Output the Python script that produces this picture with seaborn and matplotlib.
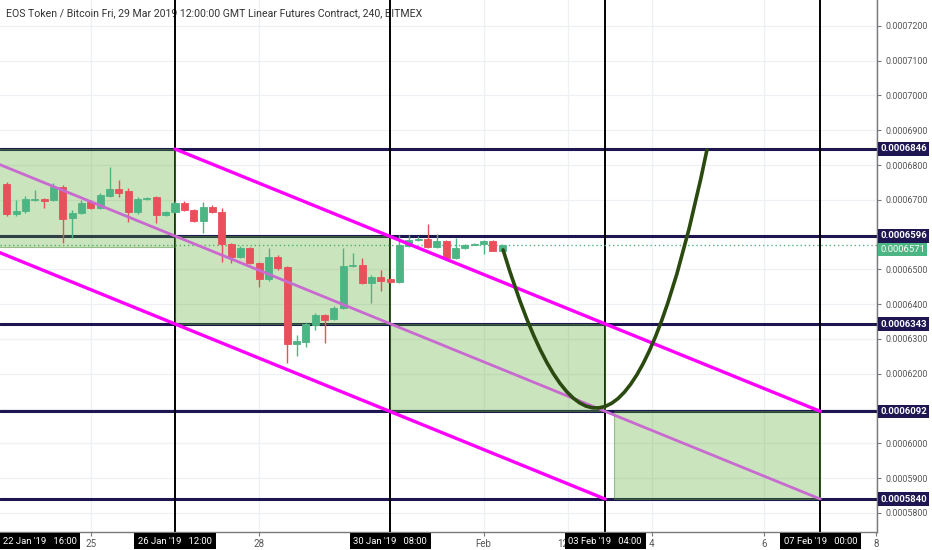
"""
EOS/BTC 4h chart with channel, levels and projection curve (TradingView style)
"""
import matplotlib
matplotlib.use('Agg')
import matplotlib.pyplot as plt
import matplotlib.dates as mdates
from matplotlib.path import Path
from matplotlib.patches import PathPatch, Rectangle
import numpy as np
import pandas as pd
import seaborn as sns

UNIT = 1e-7  # all prices below are in units of 1e-7 BTC

# ---- 4h candles, first one 23 Jan 12:00 ----
candle_start = '2019-01-23 12:00'
opens = [6745, 6659, 6668, 6699, 6702, 6699, 6737, 6648, 6662, 6694,
         6676, 6711, 6731, 6725, 6665, 6702, 6708, 6656, 6665, 6691,
         6671, 6639, 6679, 6665, 6573, 6536, 6561, 6518, 6472, 6536,
         6507, 6286, 6291, 6340, 6369, 6357, 6389, 6510, 6513, 6461,
         6478, 6472, 6464, 6567, 6584, 6587, 6564, 6582, 6533, 6561,
         6570, 6573, 6582, 6553]
highs = [6751, 6699, 6711, 6728, 6705, 6748, 6743, 6671, 6699, 6699,
         6720, 6794, 6757, 6734, 6708, 6708, 6711, 6668, 6697, 6697,
         6673, 6694, 6685, 6676, 6576, 6567, 6564, 6521, 6561, 6541,
         6510, 6311, 6349, 6375, 6372, 6395, 6561, 6547, 6533, 6484,
         6498, 6475, 6599, 6599, 6596, 6630, 6602, 6584, 6590, 6573,
         6576, 6584, 6584, 6573]
lows = [6653, 6653, 6662, 6697, 6676, 6697, 6576, 6590, 6659, 6673,
        6673, 6708, 6708, 6636, 6659, 6699, 6633, 6653, 6662, 6668,
        6636, 6605, 6662, 6521, 6518, 6533, 6515, 6449, 6466, 6498,
        6231, 6251, 6277, 6326, 6288, 6354, 6386, 6507, 6458, 6403,
        6438, 6461, 6461, 6564, 6582, 6561, 6561, 6530, 6530, 6558,
        6570, 6544, 6553, 6550]
closes = [6659, 6668, 6702, 6702, 6697, 6737, 6645, 6662, 6691, 6676,
          6714, 6731, 6720, 6665, 6702, 6705, 6656, 6665, 6691, 6671,
          6639, 6679, 6665, 6573, 6536, 6561, 6518, 6472, 6536, 6504,
          6286, 6294, 6343, 6369, 6354, 6389, 6510, 6513, 6461, 6478,
          6466, 6464, 6570, 6584, 6587, 6564, 6582, 6533, 6561, 6570,
          6573, 6582, 6553, 6571]

# ---- drawings ----
levels = [6846, 6596, 6343, 6092, 5840]
last_price = 6571

vline_times = ['2019-01-26 12:00', '2019-01-30 08:00', '2019-02-03 04:00', '2019-02-07 00:00']
vline_labels = ["26 Jan '19   12:00", "30 Jan '19   08:00", "03 Feb '19   04:00", "07 Feb '19   00:00"]
offscreen_label = "22 Jan '19   16:00"

box_start = ['2019-01-23 00:00', '2019-01-26 12:00', '2019-01-30 08:00', '2019-02-03 07:45']
box_end = ['2019-01-26 12:00', '2019-01-30 08:00', '2019-02-03 04:00', '2019-02-07 00:00']
box_low = [6565, 6343, 6092, 5840]
box_high = [6846, 6596, 6343, 6092]

upper_t = ['2019-01-26 12:00', '2019-02-07 00:00']
upper_p = [6846, 6092]
middle_t = ['2019-01-23 00:00', '2019-02-07 00:00']
middle_p = [6826, 5840]
lower_t = ['2019-01-23 00:00', '2019-02-03 04:00']
lower_p = [6573, 5840]

# curve tool: start, control, end
curve_t = ['2019-02-01 08:20', '2019-02-03 06:55', '2019-02-04 23:30']
curve_p = [6556, 5521, 6843]

xtick_times = ['2019-01-25 00:00', '2019-01-28 00:00', '2019-02-01 00:00', '2019-02-02 12:00',
               '2019-02-04 00:00', '2019-02-06 00:00', '2019-02-08 00:00']
xtick_labels = ['25', '28', 'Feb', '12', '4', '6', '8']

title = 'EOS Token / Bitcoin Fri, 29 Mar 2019 12:00:00 GMT Linear Futures Contract, 240, BITMEX'

RED = '#e8505b'
GREEN = '#4db584'
NAVY = '#1d1650'
MAGENTA = '#ff00ff'


def tn(x):
    if isinstance(x, str):
        return mdates.date2num(pd.Timestamp(x))
    return mdates.date2num(pd.to_datetime(x, format='%Y-%m-%d %H:%M'))


sns.set_theme(style='white')
plt.rcParams['font.family'] = ['Roboto', 'DejaVu Sans']

fig = plt.figure(figsize=(9.32, 5.5), dpi=100)
ax = fig.add_axes([0, 18 / 550, 877 / 932, 532 / 550])

# grid
ax.grid(True, color='#eef0f5', lw=0.9, zorder=0)

# horizontal levels and vertical time lines
for lv in levels:
    ax.axhline(lv * UNIT, color=NAVY, lw=2.2, zorder=2)
for vt in vline_times:
    ax.axvline(tn(vt), color='black', lw=1.4, zorder=2)
ax.axhline(last_price * UNIT, color=GREEN, lw=1, ls=(0, (1, 2)), zorder=2)

# green boxes
for s, e, lo, hi in zip(box_start, box_end, box_low, box_high):
    ax.add_patch(Rectangle((tn(s), lo * UNIT), tn(e) - tn(s), (hi - lo) * UNIT,
                           fc=(0.32, 0.65, 0.15, 0.30), ec=(0.30, 0.55, 0.20, 0.5),
                           lw=0.8, zorder=3))

# candles
t = mdates.date2num(pd.date_range(candle_start, periods=len(opens), freq='4h'))
o = np.array(opens) * UNIT
h = np.array(highs) * UNIT
l = np.array(lows) * UNIT
c = np.array(closes) * UNIT
cols = [GREEN if cc >= oo else RED for oo, cc in zip(o, c)]
ax.vlines(t, l, h, colors=cols, lw=1, zorder=5)
ax.bar(t, np.abs(c - o), bottom=np.minimum(o, c), width=0.125,
       color=cols, edgecolor=cols, lw=0.6, zorder=5)

# channel lines
sns.lineplot(x=tn(upper_t), y=np.array(upper_p) * UNIT, color=MAGENTA, linewidth=2.4, ax=ax, zorder=6)
sns.lineplot(x=tn(lower_t), y=np.array(lower_p) * UNIT, color=MAGENTA, linewidth=2.4, ax=ax, zorder=6)
sns.lineplot(x=tn(middle_t), y=np.array(middle_p) * UNIT, color='#c86ad0', linewidth=2.0, ax=ax, zorder=6)

# projection curve
pts = list(zip(tn(curve_t), np.array(curve_p) * UNIT))
ax.add_patch(PathPatch(Path(pts, [Path.MOVETO, Path.CURVE3, Path.CURVE3]),
                       fc='none', ec='#2a4a10', lw=2.6, zorder=7, capstyle='round'))

# axes limits / ticks
ax.set_xlim(tn('2019-01-23 09:09'), tn('2019-02-08 00:15'))
ax.set_ylim(5745.3 * UNIT, 7274.2 * UNIT)
ax.set_xticks(tn(xtick_times))
ax.set_xticklabels(xtick_labels)
# the "12" label is half hidden by the 03 Feb box in the original: keep it left of the tick
ax.get_xticklabels()[3].set_ha('right')
yt = np.arange(5800, 7300, 100)
ax.set_yticks(yt * UNIT)
# labels at 0.00066 / 0.00061 sit under the level boxes
ax.set_yticklabels(['' if v in (6600, 6100) else f'{v * UNIT:.7f}' for v in yt])
ax.yaxis.tick_right()
ax.tick_params(axis='y', length=3, width=0.8, color='#777777', labelsize=6.4,
               labelcolor='#555555', pad=3, right=True, left=False)
ax.tick_params(axis='x', length=3, width=0.8, color='#777777', labelsize=7,
               labelcolor='#555555', pad=2, bottom=True)
for side in ['left', 'top']:
    ax.spines[side].set_visible(False)
for side in ['right', 'bottom']:
    ax.spines[side].set_color('#7a7a7a')
    ax.spines[side].set_linewidth(1)

ax.set_xlabel('')
ax.set_ylabel('')

# title
ax.text(6 / 877, 1 - 13 / 532, title, transform=ax.transAxes, fontsize=7.6,
        color='#333333', va='center', ha='left', zorder=1)

# price labels on the right
for lv in levels:
    ax.annotate(f'{lv * UNIT:.7f}', xy=(1, lv * UNIT), xycoords=('axes fraction', 'data'),
                xytext=(2.2, 0), textcoords='offset points', ha='left', va='center',
                fontsize=6.8, fontweight='bold', color='white', annotation_clip=False,
                bbox=dict(boxstyle='square,pad=0.22', fc=NAVY, ec='none'), zorder=10)
ax.annotate(f'{last_price * UNIT:.7f}', xy=(1, last_price * UNIT), xycoords=('axes fraction', 'data'),
            xytext=(2.2, -3.4), textcoords='offset points', ha='left', va='center',
            fontsize=6.8, color='white', annotation_clip=False,
            bbox=dict(boxstyle='square,pad=0.22', fc=GREEN, ec='none'), zorder=9)

# time labels at the bottom
for vt, lbl in zip(vline_times, vline_labels):
    ax.annotate(lbl, xy=(tn(vt), 0), xycoords=('data', 'axes fraction'),
                xytext=(0, -6.5), textcoords='offset points', ha='center', va='center',
                fontsize=6.8, color='white', annotation_clip=False,
                bbox=dict(boxstyle='square,pad=0.38', fc='black', ec='none'), zorder=10)
ax.annotate(offscreen_label, xy=(0, 0), xycoords='axes fraction',
            xytext=(2, -6.5), textcoords='offset points', ha='left', va='center',
            fontsize=6.8, color='white', annotation_clip=False,
            bbox=dict(boxstyle='square,pad=0.38', fc='black', ec='none'), zorder=10)

plt.savefig('out.png', dpi=100)
plt.close()
print("saved out.png")
